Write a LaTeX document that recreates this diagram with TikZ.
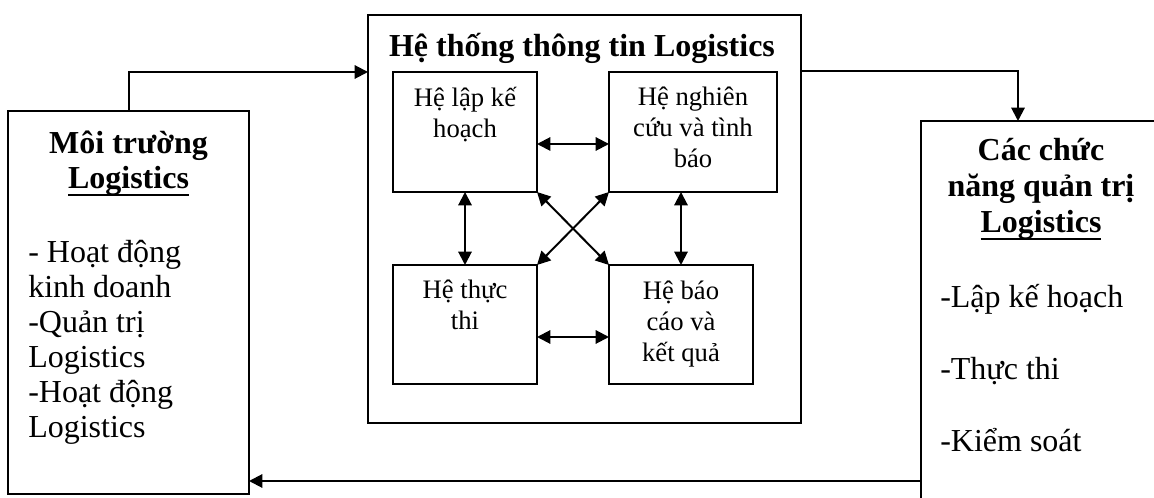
\documentclass[tikz,border=0pt]{standalone}
\usepackage{fontspec}
\setmainfont{Liberation Serif}
\usetikzlibrary{arrows.meta}
\newcommand{\thickul}[1]{\leavevmode\vtop{\hbox{#1}\kern-1.7pt\hrule height 2pt}}
\begin{document}
\begin{tikzpicture}[x=0.75pt,y=-0.75pt,
  box/.style={draw, line width=1.5pt, inner sep=0pt, outer sep=0pt},
  lnk/.style={line width=1.5pt},
  arr/.style={lnk, -{Triangle[length=10pt,width=10pt]}},
  darr/.style={lnk, {Triangle[length=10pt,width=10pt]}-{Triangle[length=10pt,width=10pt]}},
  big/.style={font=\fontsize{24}{26.5}\selectfont, inner sep=0pt},
  small/.style={font=\fontsize{20}{23.25}\selectfont, inner sep=0pt, align=center, anchor=base}]
\useasboundingbox (0,0) rectangle (1154,498);
\clip (0,0) rectangle (1154,498);

% boxes
\node[box, minimum width=180.75pt, minimum height=287.25pt] (leftbox) at (128.5,302.5) {};
\node[box, minimum width=324.75pt, minimum height=306pt] (midbox) at (584.5,219) {};
\node[box, minimum width=189.75pt, minimum height=294.75pt] (rightbox) at (1047.5,317.5) {};
\node[box, minimum width=108pt, minimum height=90pt] (tl) at (465,132) {};
\node[box, minimum width=126pt, minimum height=90pt] (tr) at (693,132) {};
\node[box, minimum width=108pt, minimum height=89.25pt] (bl) at (465,324.5) {};
\node[box, minimum width=108pt, minimum height=89.25pt] (br) at (681,324.5) {};

% texts (anchor base = baseline of the last line)
\node[big, anchor=base, font=\fontsize{24}{26.5}\selectfont\bfseries] (title) at (582,57) {Hệ thống thông tin Logistics};
\node[big, anchor=base, align=center, font=\fontsize{24}{26.25}\selectfont\bfseries] (lhead) at (128.5,189) {Môi trường\\\thickul{Logistics}};
\node[big, anchor=base west, align=left, font=\fontsize{24}{26.25}\selectfont] (lbody) at (28,438) {- Hoạt động\\kinh doanh\\-Quản trị\\Logistics\\-Hoạt động\\Logistics};
\node[big, anchor=base, align=center, font=\fontsize{24}{27}\selectfont\bfseries] (rhead) at (1041,233) {Các chức\\năng quản trị\\\thickul{Logistics}};
\node[big, anchor=base west, align=left, font=\fontsize{24}{27}\selectfont] (rbody) at (940,452) {-Lập kế hoạch\\[27pt]-Thực thi\\[27pt]-Kiểm soát};
\node[small] (tltext) at (465,138) {Hệ lập kế\\hoạch};
\node[small] (trtext) at (693,168) {Hệ nghiên\\cứu và tình\\báo};
\node[small] (bltext) at (465,330) {Hệ thực\\thi};
\node[small] (brtext) at (681,362) {Hệ báo\\cáo và\\kết quả};

% outer connectors
\draw[arr] (leftbox.north) |- (midbox.west |- 0,72);
\draw[arr] (midbox.east |- 0,71) -| (1018,0 |- rightbox.north);
\draw[arr] (rightbox.west |- 0,481) -- (leftbox.east |- 0,481);

% inner connectors
\draw[darr] (tl.east |- 0,144) -- (tr.west |- 0,144);
\draw[darr] (bl.east |- 0,337) -- (br.west |- 0,337);
\draw[darr] (tl.south) -- (bl.north);
\draw[darr] (br.north |- tr.south) -- (br.north);
\draw[darr] (tl.south east) -- (br.north west);
\draw[darr] (tr.south west) -- (bl.north east);
\end{tikzpicture}
\end{document}
